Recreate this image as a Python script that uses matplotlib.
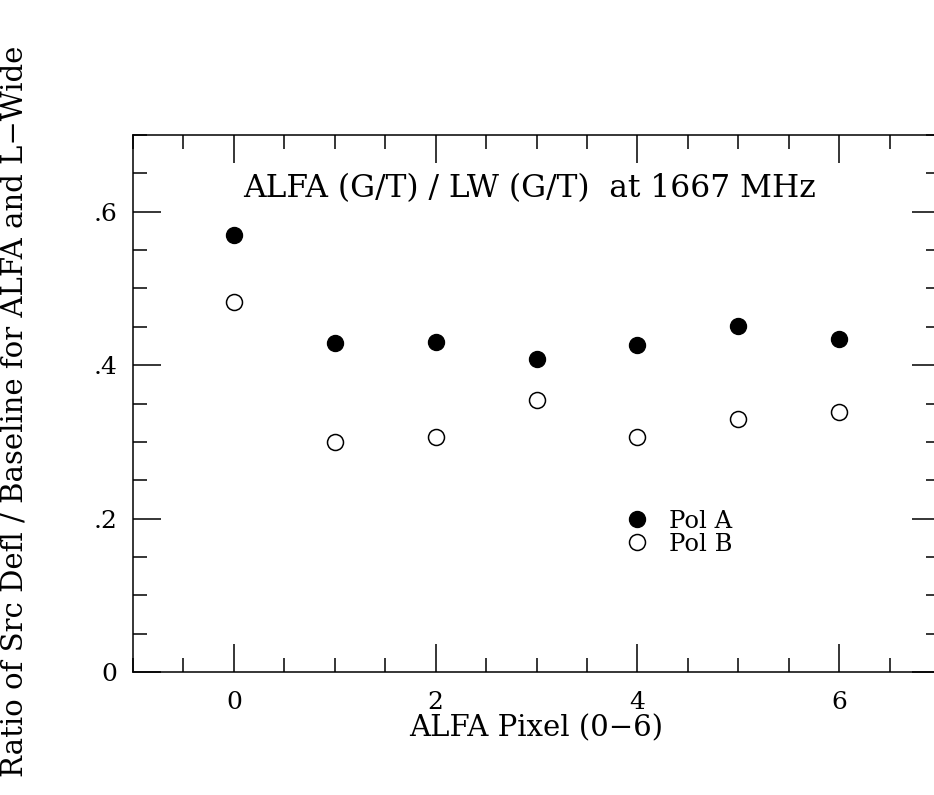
import matplotlib
matplotlib.use("Agg")
import matplotlib.pyplot as plt
from matplotlib.ticker import MultipleLocator, FixedLocator

pixels = [0, 1, 2, 3, 4, 5, 6]
pol_a = [0.569, 0.429, 0.430, 0.408, 0.426, 0.451, 0.434]
pol_b = [0.482, 0.300, 0.306, 0.355, 0.306, 0.330, 0.339]
xtick_vals = [0, 2, 4, 6]
xtick_labels = ["0", "2", "4", "6"]
ytick_vals = [0.0, 0.2, 0.4, 0.6]
ytick_labels = ["0", ".2", ".4", ".6"]

plt.rcParams['font.family'] = ['DejaVu Serif']

fig = plt.figure(figsize=(9.34, 7.95), dpi=100)
W, H = 934, 795
left, right, top, bottom = 133, 940, 135, 672
ax = fig.add_axes([left / W, (H - bottom) / H, (right - left) / W, (bottom - top) / H])

ax.plot(pixels, pol_a, 'o', color='black', markersize=11.5, label='Pol A', clip_on=False)
ax.plot(pixels, pol_b, 'o', markerfacecolor='white', markeredgecolor='black',
        markeredgewidth=1.1, markersize=11.5, label='Pol B', clip_on=False)

ax.set_xlim(-1, 7)
ax.set_ylim(0, 0.7)
ax.xaxis.set_major_locator(FixedLocator(xtick_vals))
ax.set_xticklabels(xtick_labels)
ax.yaxis.set_major_locator(FixedLocator(ytick_vals))
ax.set_yticklabels(ytick_labels)
ax.xaxis.set_minor_locator(MultipleLocator(0.5))
ax.yaxis.set_minor_locator(MultipleLocator(0.05))
ax.tick_params(which='both', direction='in', top=True, right=True, width=1.1, labelsize=18)
ax.tick_params(which='major', length=20)
ax.tick_params(which='minor', length=10)
ax.tick_params(axis='x', which='major', pad=14)
ax.tick_params(axis='y', which='major', pad=11)
for s in ax.spines.values():
    s.set_linewidth(1.1)

ax.set_xlabel('ALFA Pixel (0\u22126)', fontsize=21, labelpad=0)
ax.set_ylabel('Ratio of Src Defl / Baseline for ALFA and L\u2212Wide', fontsize=21)
ax.yaxis.set_label_coords(-0.130, 0.485)

ax.text(0.136, 0.901, 'ALFA (G/T) / LW (G/T)  at 1667 MHz', transform=ax.transAxes,
        ha='left', va='center', fontsize=22.5)

ax.legend(loc='upper left', bbox_to_anchor=(0.616, 0.302), frameon=False, numpoints=1,
          fontsize=17.5, handlelength=0.6, handletextpad=1.0, labelspacing=0.0,
          borderpad=0, borderaxespad=0)

fig.savefig('out.png', dpi=100)
